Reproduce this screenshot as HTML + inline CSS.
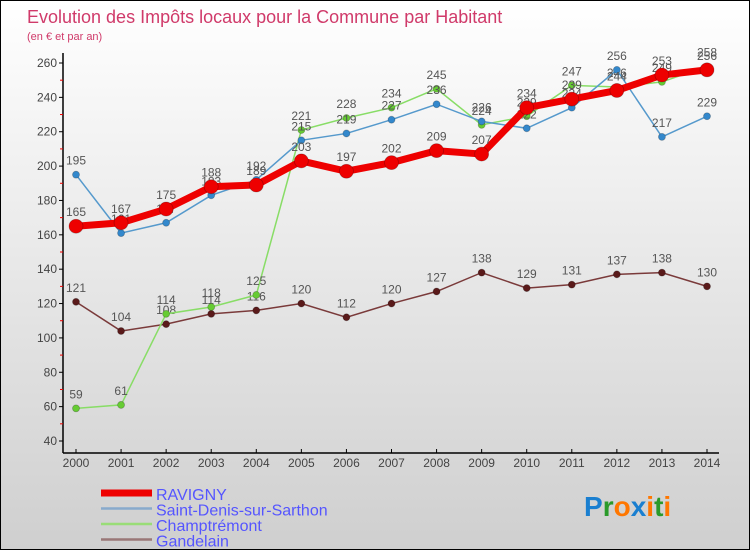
<!DOCTYPE html>
<html><head><meta charset="utf-8"><style>
body{margin:0;width:750px;height:550px;overflow:hidden;font-family:"Liberation Sans",sans-serif}
#c{position:absolute;left:0;top:0;width:748px;height:548px;border:1px solid #000;background:linear-gradient(#ffffff,#cfcfcf)}
</style></head><body>
<div id="c">
<svg id="s" width="750" height="550">
<text x="26" y="22" font-size="18" fill="#d03a6a">Evolution des Impôts locaux pour la Commune par Habitant</text>
<text x="26" y="39" font-size="11" fill="#d03a6a">(en € et par an)</text>
</svg></div>
<script>
const years=[2000,2001,2002,2003,2004,2005,2006,2007,2008,2009,2010,2011,2012,2013,2014];
const yTicks=[40,60,80,100,120,140,160,180,200,220,240,260];
const ravigny=[165,167,175,188,189,203,197,202,209,207,234,239,244,253,256];
const stdenis=[195,161,167,183,192,215,219,227,236,226,222,234,256,217,229];
const champ=[59,61,114,118,125,221,228,234,245,224,229,247,246,249,258];
const gand=[121,104,108,114,116,120,112,120,127,138,129,131,137,138,130];
const s=document.getElementById('s');const NS='http://www.w3.org/2000/svg';
const X=i=>75+i*(706-75)/14;const Y=v=>440-(v-40)*(378/220);
function el(t,a,p){const e=document.createElementNS(NS,t);for(const k in a)e.setAttribute(k,a[k]);(p||s).appendChild(e);return e;}
let ax=el('line',{x1:62,y1:52,x2:62,y2:452,stroke:'#000','stroke-width':1.5});


let xa=el('line',{x1:62,y1:452,x2:718,y2:452,stroke:'#000','stroke-width':1.5});


yTicks.forEach(v=>{const t=el('text',{x:56,y:Y(v)+4,'font-size':12,fill:'#444','text-anchor':'end'});t.textContent=v;


el('line',{x1:58,y1:Y(v),x2:62,y2:Y(v),stroke:'#000'});
if(v<260)el('line',{x1:59,y1:Y(v+10),x2:62,y2:Y(v+10),stroke:'#e00'});});
years.forEach((y,i)=>{el('line',{x1:X(i),y1:448,x2:X(i),y2:452,stroke:'#000'});const t=el('text',{x:X(i),y:466,'font-size':12,fill:'#444','text-anchor':'middle'});t.textContent=y;

});
function series(d,col,w,r,dot,name){const g=el('g',{});


el('polyline',{points:d.map((v,i)=>X(i)+','+Y(v)).join(' '),fill:'none',stroke:col,'stroke-width':w},g);
d.forEach((v,i)=>{const c=el('circle',{cx:X(i),cy:Y(v),r:r,fill:dot,stroke:'rgba(0,0,0,0.25)','stroke-width':0.8},g);


const t=el('text',{x:X(i),y:Y(v)-10,'font-size':12,fill:'#555','text-anchor':'middle'},g);t.textContent=v;});}
series(gand,'#7a3a3a',1.5,3.5,'#5a1a1a','series-gandelain');
series(champ,'#88dd66',1.5,3.5,'#66cc33','series-champtremont');
series(stdenis,'#5599cc',1.5,3.5,'#3388cc','series-saint-denis');
series(ravigny,'#ee0000',7,7,'#ee0000','series-ravigny');
const leg=[['RAVIGNY','#ee0000',7],['Saint-Denis-sur-Sarthon','#88aacc',2.5],['Champtrémont','#99dd77',2.5],['Gandelain','#997777',2.5]];
leg.forEach((l,i)=>{const y=492+i*15.5;el('line',{x1:100,y1:y,x2:151,y2:y,stroke:l[1],'stroke-width':l[2]});const t=el('text',{x:155,y:y+7,'font-size':16,fill:'#5555ff'});t.textContent=l[0];

});
const lg=el('text',{x:583,y:515,'font-size':28,'font-weight':'bold'});


[['P','#1a7fd0'],['r','#2a9a2a'],['o','#ff7700'],['x','#1a7fd0'],['i','#ff7700'],['t','#2a9a2a'],['i','#ff7700']].forEach(c=>{const sp=el('tspan',{fill:c[1]},lg);sp.textContent=c[0];});
</script></body></html>
